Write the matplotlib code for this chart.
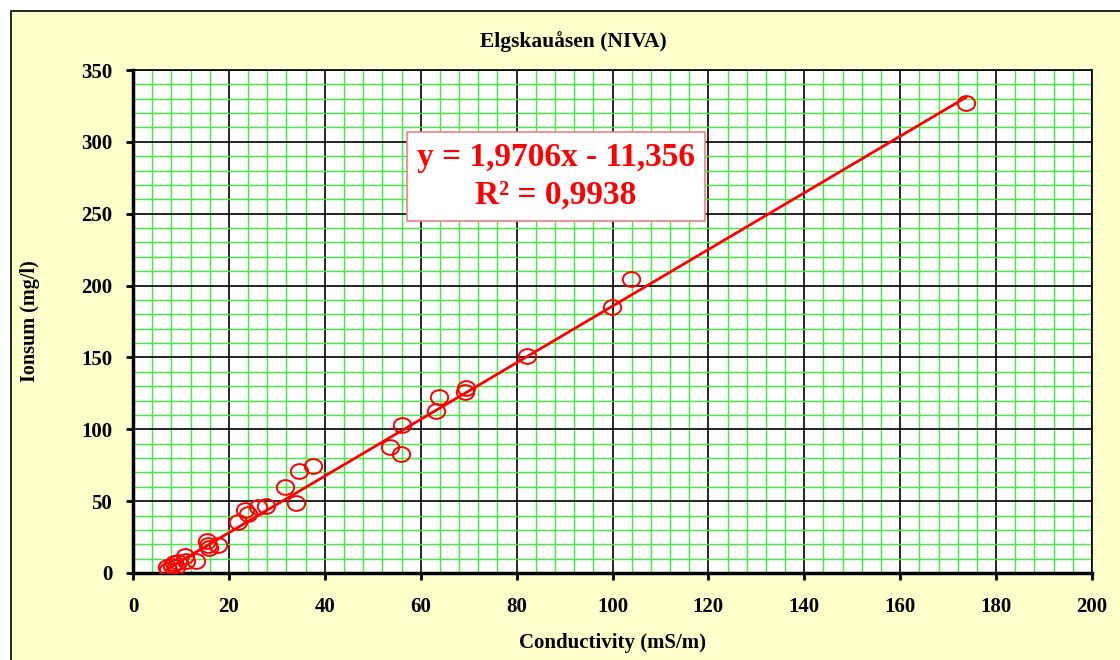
import matplotlib
matplotlib.use("Agg")
import matplotlib.pyplot as plt
from matplotlib.patches import Rectangle
from matplotlib.path import Path
from matplotlib.ticker import MultipleLocator

# readings
conductivity = [173.7, 103.9, 99.9, 82.2, 69.4, 69.2, 63.8, 63.2, 56.1, 53.6,
                55.9, 37.5, 34.6, 34.0, 31.7, 27.7, 26.1, 24.0, 23.4, 21.9,
                17.7, 15.4, 15.6, 15.8, 13.1, 10.8, 11.0, 9.4, 9.0, 8.1,
                7.3, 7.1, 8.6]
ionsum = [327.0, 204.6, 185.0, 151.0, 128.7, 126.0, 122.5, 112.7, 103.0, 87.7,
          82.8, 74.5, 71.0, 48.7, 60.0, 46.6, 46.0, 41.0, 43.8, 35.5,
          19.5, 22.3, 19.5, 17.4, 8.4, 11.8, 8.4, 7.7, 4.2, 4.9,
          2.1, 4.2, 7.0]
slope = 1.9706
intercept = -11.356
fit_range = [7.1, 173.7]

serif = "Liberation Serif"

# slightly flattened circle, like the excel marker
circ = Path.unit_circle()
oval = Path(circ.vertices * [1.0, 0.85], circ.codes)

fig = plt.figure(figsize=(11.2, 6.6), dpi=100)
fig.patch.set_facecolor("white")
fig.patches.append(Rectangle((11 / 1120, -0.2), 1.3, 1.2 - 11 / 660,
                             transform=fig.transFigure, facecolor="#FFFFCC",
                             edgecolor="black", linewidth=1.2, zorder=-10))

ax = fig.add_axes([133 / 1120, 1 - 573 / 660, (1092 - 133) / 1120, (573 - 70) / 660])
ax.set_zorder(1)
ax.set_facecolor("white")
ax.set_xlim(0, 200)
ax.set_ylim(0, 350)
ax.xaxis.set_major_locator(MultipleLocator(20))
ax.xaxis.set_minor_locator(MultipleLocator(4))
ax.yaxis.set_major_locator(MultipleLocator(50))
ax.yaxis.set_minor_locator(MultipleLocator(10))
ax.grid(which="minor", color="#3EEE3E", linewidth=1.0, zorder=0)
ax.grid(which="major", color="black", linewidth=1.2, zorder=0)
ax.set_axisbelow(True)

ax.plot(fit_range, [slope * v + intercept for v in fit_range],
        color="#FF0000", linewidth=2, zorder=3)
ax.plot(conductivity, ionsum, linestyle="None", marker=oval, markersize=12.5,
        markerfacecolor="none", markeredgecolor="#FF0000", markeredgewidth=1.4,
        zorder=4)

for side in ["left", "bottom"]:
    ax.spines[side].set_linewidth(2.5)
for side in ["top", "right"]:
    ax.spines[side].set_linewidth(1.2)
ax.tick_params(which="major", direction="out", length=5, width=2, labelsize=15)
ax.tick_params(axis="x", pad=12)
ax.tick_params(axis="y", pad=10)
ax.tick_params(which="minor", length=0)
for lab in ax.get_xticklabels() + ax.get_yticklabels():
    lab.set_fontfamily(serif)
    lab.set_fontweight("bold")

ax.set_xlabel("Conductivity (mS/m)", fontfamily=serif, fontweight="bold",
              fontsize=15, va="center")
ax.xaxis.set_label_coords(0.5, (573 - 643) / 503)
ax.set_ylabel("Ionsum (mg/l)", fontfamily=serif, fontweight="bold",
              fontsize=14.5, va="center")
ax.yaxis.set_label_coords((30 - 133) / 959, 0.5)
fig.text(573 / 1120, 1 - 42 / 660, "Elgskauåsen (NIVA)", fontfamily=serif,
         fontweight="bold", fontsize=15.5, ha="center", va="center")

ax.text(88.2, 276, "y = 1,9706x - 11,356\nR² = 0,9938", color="#FF0000",
        fontfamily=serif, fontweight="bold", fontsize=24, ha="center", va="center",
        linespacing=1.3, zorder=5,
        bbox=dict(boxstyle="square,pad=0.3", facecolor="white",
                  edgecolor="#F08080", linewidth=1.2))

fig.savefig("out.png", dpi=100)
